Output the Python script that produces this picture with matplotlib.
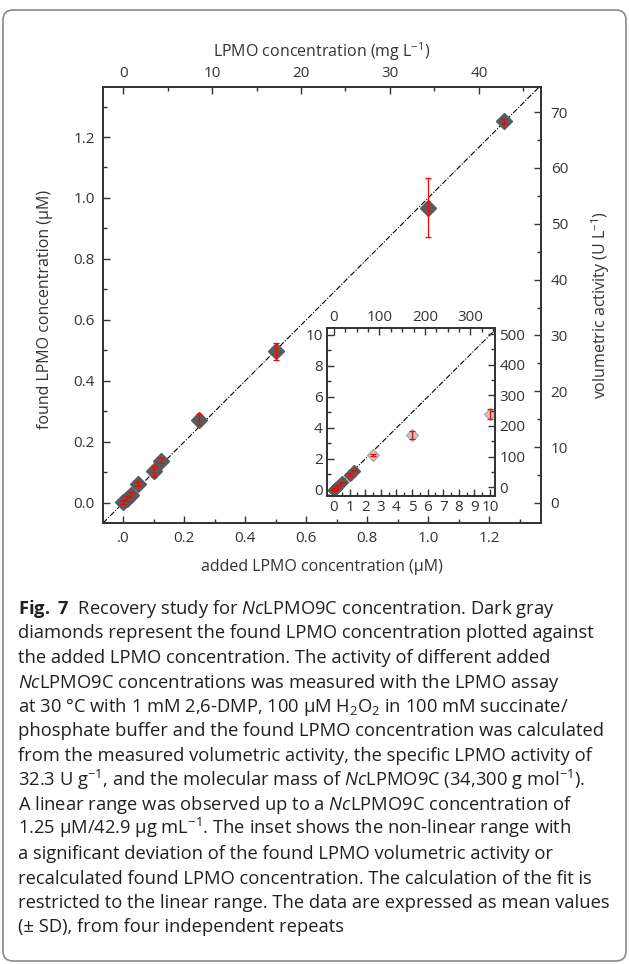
import matplotlib
matplotlib.use("Agg")
import matplotlib.pyplot as plt
from matplotlib.patches import FancyBboxPatch
from matplotlib.transforms import IdentityTransform
from matplotlib.ticker import MultipleLocator, FixedLocator, FormatStrFormatter

plt.rcParams['font.family'] = ['Open Sans', 'DejaVu Sans']
plt.rcParams['mathtext.fontset'] = 'custom'
plt.rcParams['mathtext.rm'] = 'Open Sans'
plt.rcParams['mathtext.it'] = 'Open Sans:italic'
plt.rcParams['mathtext.bf'] = 'Open Sans:bold'

W, H = 629, 964

# Recovery data, µM (mean +- SD)
added_uM = [0.0, 0.0125, 0.025, 0.05, 0.1, 0.125, 0.25, 0.5, 1.0, 1.25]
found_uM = [0.003, 0.014, 0.027, 0.062, 0.103, 0.138, 0.272, 0.497, 0.968, 1.252]
found_sd = [0.006, 0.008, 0.008, 0.008, 0.018, 0.008, 0.018, 0.027, 0.096, 0.008]

# non-linear range (inset only)
added_hi = [2.5, 5.0, 10.0]
found_hi = [2.26, 3.55, 4.92]
sd_hi = [0.06, 0.25, 0.32]

xticks_main = [0.0, 0.2, 0.4, 0.6, 0.8, 1.0, 1.2]
xticklabels_main = ['.0', '0.2', '0.4', '0.6', '0.8', '1.0', '1.2']

MG_PER_UMOL = 34.3  # mg L-1 per µM

CAPTION = [
    r"$\mathbf{Fig.\ 7}$  Recovery study for $\mathit{Nc}$LPMO9C concentration. Dark gray",
    "diamonds represent the found LPMO concentration plotted against",
    "the added LPMO concentration. The activity of different added",
    r"$\mathit{Nc}$LPMO9C concentrations was measured with the LPMO assay",
    r"at 30 °C with 1 mM 2,6-DMP, 100 µM H$_2$O$_2$ in 100 mM succinate/",
    "phosphate buffer and the found LPMO concentration was calculated",
    "from the measured volumetric activity, the specific LPMO activity of",
    r"32.3 U g$^{-1}$, and the molecular mass of $\mathit{Nc}$LPMO9C (34,300 g mol$^{-1}$).",
    r"A linear range was observed up to a $\mathit{Nc}$LPMO9C concentration of",
    r"1.25 µM/42.9 µg mL$^{-1}$. The inset shows the non-linear range with",
    "a significant deviation of the found LPMO volumetric activity or",
    "recalculated found LPMO concentration. The calculation of the fit is",
    "restricted to the linear range. The data are expressed as mean values",
    "(± SD), from four independent repeats",
]

TXT = '#333333'
DARK = '#5b5b5b'
LIGHT = '#c6c6c6'


def style_axis(a, size=11, pad=4):
    for s in a.spines.values():
        s.set_color(TXT)
        s.set_linewidth(1.1)
    a.tick_params(which='both', direction='in', colors=TXT, labelcolor=TXT,
                  labelsize=size, pad=pad, width=1)
    a.tick_params(which='major', length=5)
    a.tick_params(which='minor', length=3)


def px_axes(left, top, right, bottom):
    return [left / W, 1 - bottom / H, (right - left) / W, (bottom - top) / H]


fig = plt.figure(figsize=(W / 100, H / 100), dpi=100)

# ---- main panel ----
ax = fig.add_axes(px_axes(103, 87, 541, 523))
xlim = (-0.066, 1.37)
ylim = (-0.066, 1.364)
ax.plot(xlim, xlim, color='black', lw=0.8, ls=(0, (5, 1.5, 1, 1.5)), zorder=2)
ax.plot(added_uM, found_uM, ls='none', marker='D', ms=8, mfc=DARK, mec=DARK, zorder=3)
ax.errorbar(added_uM, found_uM, yerr=found_sd, fmt='none', ecolor='red',
            elinewidth=0.9, capsize=2.5, capthick=0.9, zorder=4)
ax.set_xlim(xlim)
ax.set_ylim(ylim)
ax.xaxis.set_major_locator(FixedLocator(xticks_main))
ax.set_xticklabels(xticklabels_main)
ax.xaxis.set_minor_locator(MultipleLocator(0.1))
ax.yaxis.set_major_locator(MultipleLocator(0.2))
ax.yaxis.set_minor_locator(MultipleLocator(0.1))
ax.yaxis.set_major_formatter(FormatStrFormatter('%.1f'))
style_axis(ax, pad=6)

axt = ax.twiny()
axt.set_xlim(xlim[0] * MG_PER_UMOL, xlim[1] * MG_PER_UMOL)
axt.xaxis.set_major_locator(MultipleLocator(10))
axt.xaxis.set_minor_locator(MultipleLocator(5))
style_axis(axt, pad=4)

axr = ax.twinx()
axr.set_ylim(-3.6, 74.5)
axr.yaxis.set_major_locator(MultipleLocator(10))
axr.yaxis.set_minor_locator(MultipleLocator(5))
style_axis(axr, pad=7)

ax.text(0.5, 1.080, r'LPMO concentration (mg L$^{-1}$)', transform=ax.transAxes,
        ha='center', va='center', fontsize=11.5, color=TXT)
ax.text(0.5, -0.101, 'added LPMO concentration (μM)', transform=ax.transAxes,
        ha='center', va='center', fontsize=11.5, color=TXT)
ax.text(-0.132, 0.49, 'found LPMO concentration (μM)', transform=ax.transAxes,
        ha='center', va='center', rotation=90, fontsize=11.5, color=TXT)
ax.text(1.137, 0.5, r'volumetric activity (U L$^{-1}$)', transform=ax.transAxes,
        ha='center', va='center', rotation=90, fontsize=11.5, color=TXT)

# ---- inset ----
axi = fig.add_axes(px_axes(327, 328, 495, 496))
ixlim = (-0.45, 10.32)
iylim = (-0.39, 10.45)
axi.plot((-1, 11), (-1, 11), color='black', lw=0.8, ls=(0, (5, 1.5, 1, 1.5)), zorder=2)
axi.plot(added_uM, found_uM, ls='none', marker='D', ms=6, mfc=DARK, mec=DARK, zorder=3)
axi.plot(added_hi, found_hi, ls='none', marker='D', ms=6.5, mfc=LIGHT, mec='#a8a8a8',
         mew=0.8, zorder=3)
axi.errorbar(added_uM + added_hi, found_uM + found_hi, yerr=found_sd + sd_hi, fmt='none',
             ecolor='red', elinewidth=0.9, capsize=2.2, capthick=0.9, zorder=4)
axi.set_xlim(ixlim)
axi.set_ylim(iylim)
axi.xaxis.set_major_locator(MultipleLocator(1))
axi.xaxis.set_minor_locator(MultipleLocator(0.5))
axi.yaxis.set_major_locator(MultipleLocator(2))
axi.yaxis.set_minor_locator(MultipleLocator(1))
style_axis(axi, pad=3)

ait = axi.twiny()
ait.set_xlim(ixlim[0] * MG_PER_UMOL, ixlim[1] * MG_PER_UMOL)
ait.xaxis.set_major_locator(MultipleLocator(100))
ait.xaxis.set_minor_locator(MultipleLocator(25))
style_axis(ait, pad=2)

air = axi.twinx()
air.set_ylim(-29, 520)
air.yaxis.set_major_locator(MultipleLocator(100))
air.yaxis.set_minor_locator(MultipleLocator(50))
style_axis(air, pad=3)

# ---- caption ----
for i, line in enumerate(CAPTION):
    fig.text(18 / W, 1 - (614 + 24.5 * i) / H, line, fontsize=13.2,
             color='#231f20', ha='left', va='baseline')

# rounded frame
frame = FancyBboxPatch((3, 3), 623, 951, boxstyle='round,pad=0,rounding_size=10',
                       transform=IdentityTransform(), fill=False, ec='#8a8a8a', lw=1.2)
fig.add_artist(frame)

fig.savefig('out.png', dpi=100)
